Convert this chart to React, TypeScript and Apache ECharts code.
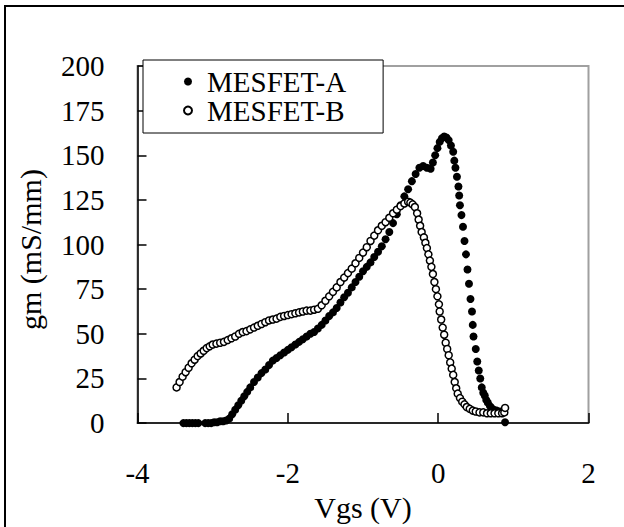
import React, { useEffect, useRef } from "react";
import * as echarts from "echarts";

// MESFET-A (filled circles)
const vgsA = [
  -3.39, -3.35, -3.31, -3.27, -3.23, -3.19,
  -3.1, -3.06, -3.02, -2.98, -2.94, -2.9, -2.86, -2.82,
  -2.78, -2.74, -2.7, -2.66, -2.62, -2.58, -2.54, -2.5,
  -2.45, -2.4, -2.35, -2.3, -2.25, -2.2, -2.15, -2.1, -2.05, -2.0,
  -1.95, -1.9, -1.85, -1.8, -1.75, -1.7, -1.65, -1.6, -1.55, -1.5,
  -1.45, -1.4, -1.35, -1.3, -1.25, -1.2, -1.15, -1.1, -1.05, -1.0,
  -0.95, -0.9, -0.85, -0.8, -0.75, -0.7, -0.65, -0.6, -0.55, -0.5,
  -0.45, -0.4, -0.35, -0.3, -0.25, -0.2, -0.15, -0.1,
  -0.07, -0.04, -0.01, 0.02, 0.05, 0.08, 0.11, 0.14, 0.17,
  0.2, 0.215, 0.23, 0.25, 0.27, 0.28, 0.29, 0.31, 0.33, 0.35, 0.37, 0.39,
  0.41, 0.43, 0.45, 0.46, 0.47, 0.5, 0.52, 0.54, 0.56, 0.58, 0.6, 0.62,
  0.64, 0.66, 0.69, 0.71, 0.74, 0.78, 0.82, 0.85, 0.89,
];
const gmA = [
  0, 0, 0, 0, 0, 0,
  0, 0, 0, 0.5, 0.5, 1, 1, 1.5,
  2.5, 5, 7.5, 10, 12.5, 15, 17.5, 20,
  23, 25.5, 28, 30, 32.5, 35, 36.5, 38, 39.5, 41,
  42.5, 44, 45.5, 47, 48.5, 50, 51, 53, 55, 57.5,
  60, 62, 64.5, 67.5, 70.5, 73, 76, 79, 82, 85,
  87.5, 90, 93, 96, 99, 103, 107, 112, 117, 122,
  127, 131, 135.5, 139.5, 143, 144, 143, 142.5,
  146, 150, 154, 157.5, 159.5, 160.5, 160, 158.5, 155.5,
  152, 147, 143, 138, 132.5, 127.5, 122, 116.5, 110, 102, 94.5, 86,
  78, 69.5, 62.5, 55, 48.5, 41.5, 34.5, 29.5, 25, 20, 17, 15.5,
  13, 11.5, 9.5, 8.5, 7.5, 7, 6.5, 6.5, 0.5,
];

// MESFET-B (open circles)
const vgsB = [
  -3.48, -3.44, -3.4, -3.36, -3.32, -3.28, -3.24, -3.2, -3.16, -3.12, -3.08, -3.04, -3.0,
  -2.95, -2.9, -2.85, -2.8, -2.75, -2.7, -2.65, -2.6, -2.55, -2.5,
  -2.45, -2.4, -2.35, -2.3, -2.25, -2.2, -2.15, -2.1, -2.05, -2.0,
  -1.95, -1.9, -1.85, -1.8, -1.75, -1.7, -1.65, -1.6, -1.55, -1.5,
  -1.45, -1.4, -1.35, -1.3, -1.25, -1.2, -1.15, -1.1, -1.05, -1.0,
  -0.95, -0.9, -0.85, -0.8, -0.75, -0.7, -0.65, -0.6, -0.55, -0.5,
  -0.45, -0.4,
  -0.37, -0.34, -0.31, -0.28, -0.26, -0.24, -0.22, -0.19, -0.17, -0.15,
  -0.13, -0.11, -0.09, -0.07, -0.05, -0.03, -0.01, 0.01, 0.02, 0.04,
  0.06, 0.08, 0.1, 0.12, 0.14, 0.16, 0.18, 0.2, 0.22, 0.24,
  0.26, 0.29, 0.32, 0.35, 0.38, 0.42, 0.46, 0.5, 0.55, 0.6,
  0.65, 0.7, 0.75, 0.8, 0.85, 0.88, 0.89,
];
const gmB = [
  20, 23, 26, 28.5, 31, 33.5, 35.5, 37.5, 39, 40.5, 42, 43, 44,
  44.5, 45, 45.5, 46.5, 47.5, 48.5, 50, 51, 51.5, 52.5,
  53.5, 54.5, 55.5, 56.5, 57.5, 58, 58.5, 59.5, 60, 60.5,
  61, 61.5, 62, 62.5, 63, 63, 63.5, 64, 66, 68.5,
  71, 73.5, 76, 79, 81.5, 84, 86.5, 89.5, 92.5, 95.5,
  98.5, 102, 105, 108, 110.5, 112.5, 115, 117.5, 119.5, 121.5,
  123, 124,
  123.5, 122.5, 121, 117.5, 114, 110.5, 107, 104, 101, 98,
  94.5, 91, 87.5, 83.5, 79, 75, 71, 66.5, 62.5, 58,
  53.5, 49.5, 45, 41.5, 38, 34, 30.5, 27, 23, 19.5,
  16.5, 14, 12, 10.5, 9, 8, 7, 6.5, 6, 6,
  5.5, 5.5, 5.5, 5.5, 5.5, 6, 8.5,
];

const seriesNames = ["MESFET-A", "MESFET-B"];
const xTitle = "Vgs (V)";
const yTitle = "gm (mS/mm)";

const FONT = '"Liberation Serif", "Times New Roman", serif';

export default function App() {
  const ref = useRef<HTMLDivElement>(null);
  useEffect(() => {
    if (!ref.current) return;
    const chart = echarts.init(ref.current, null, { renderer: "svg" });
    const dataA = vgsA.map((v, i) => [v, gmA[i]]);
    const dataB = vgsB.map((v, i) => [v, gmB[i]]);
    chart.setOption({
      animation: false,
      backgroundColor: "#fff",
      textStyle: { fontFamily: FONT, color: "#000" },
      grid: {
        left: 137.5,
        right: 35.5,
        top: 66,
        bottom: 99,
        show: true,
        borderColor: "#a0a0a0",
        borderWidth: 2,
        backgroundColor: "transparent",
      },
      xAxis: {
        type: "value",
        min: -4,
        max: 2,
        interval: 2,
        name: xTitle,
        nameLocation: "middle",
        nameGap: 60,
        nameTextStyle: { fontSize: 30, color: "#000", fontFamily: FONT },
        axisLine: { show: true, onZero: false, lineStyle: { color: "#000", width: 1.5 } },
        axisTick: { show: true, inside: true, length: 10, lineStyle: { color: "#000", width: 1.5 } },
        axisLabel: { fontSize: 29, color: "#000", margin: 35, fontFamily: FONT },
        splitLine: { show: false },
      },
      yAxis: {
        type: "value",
        min: 0,
        max: 200,
        interval: 25,
        name: yTitle,
        nameLocation: "middle",
        nameGap: 92,
        nameRotate: 90,
        nameTextStyle: { fontSize: 30, color: "#000", fontFamily: FONT, padding: [0, 10, 0, 0] },
        axisLine: { show: true, onZero: false, lineStyle: { color: "#000", width: 1.5 } },
        axisTick: { show: true, inside: true, length: 9, lineStyle: { color: "#000", width: 1.5 } },
        axisLabel: { fontSize: 29, color: "#000", margin: 33, fontFamily: FONT },
        splitLine: { show: false },
      },
      legend: {
        orient: "vertical",
        left: 143,
        top: 60,
        backgroundColor: "#fff",
        borderColor: "#000",
        borderWidth: 1,
        borderRadius: 0,
        padding: [7, 37, 8, 40],
        itemWidth: 28,
        itemHeight: 8,
        itemGap: 0,
        textStyle: { fontSize: 29, color: "#000", fontFamily: FONT },
        data: [
          { name: seriesNames[0], icon: "circle" },
          { name: seriesNames[1], icon: "circle" },
        ],
      },
      series: [
        {
          type: "scatter",
          name: seriesNames[0],
          data: dataA,
          symbol: "circle",
          symbolSize: 8,
          itemStyle: { color: "#000", opacity: 1 },
        },
        {
          type: "scatter",
          name: seriesNames[1],
          data: dataB,
          symbol: "circle",
          symbolSize: 7,
          itemStyle: { color: "#fff", borderColor: "#000", borderWidth: 1.5, opacity: 1 },
        },
      ],
      graphic: [
        {
          type: "polyline",
          silent: true,
          z: -10,
          shape: { points: [[5, 527], [5, 6], [624, 6]] },
          style: { fill: "none", stroke: "#000", lineWidth: 2 },
        },
      ],
    });
    return () => chart.dispose();
  }, []);
  return (
    <div
      ref={ref}
      style={{ position: "absolute", left: 0, top: 0, width: 624, height: 527 }}
    />
  );
}
